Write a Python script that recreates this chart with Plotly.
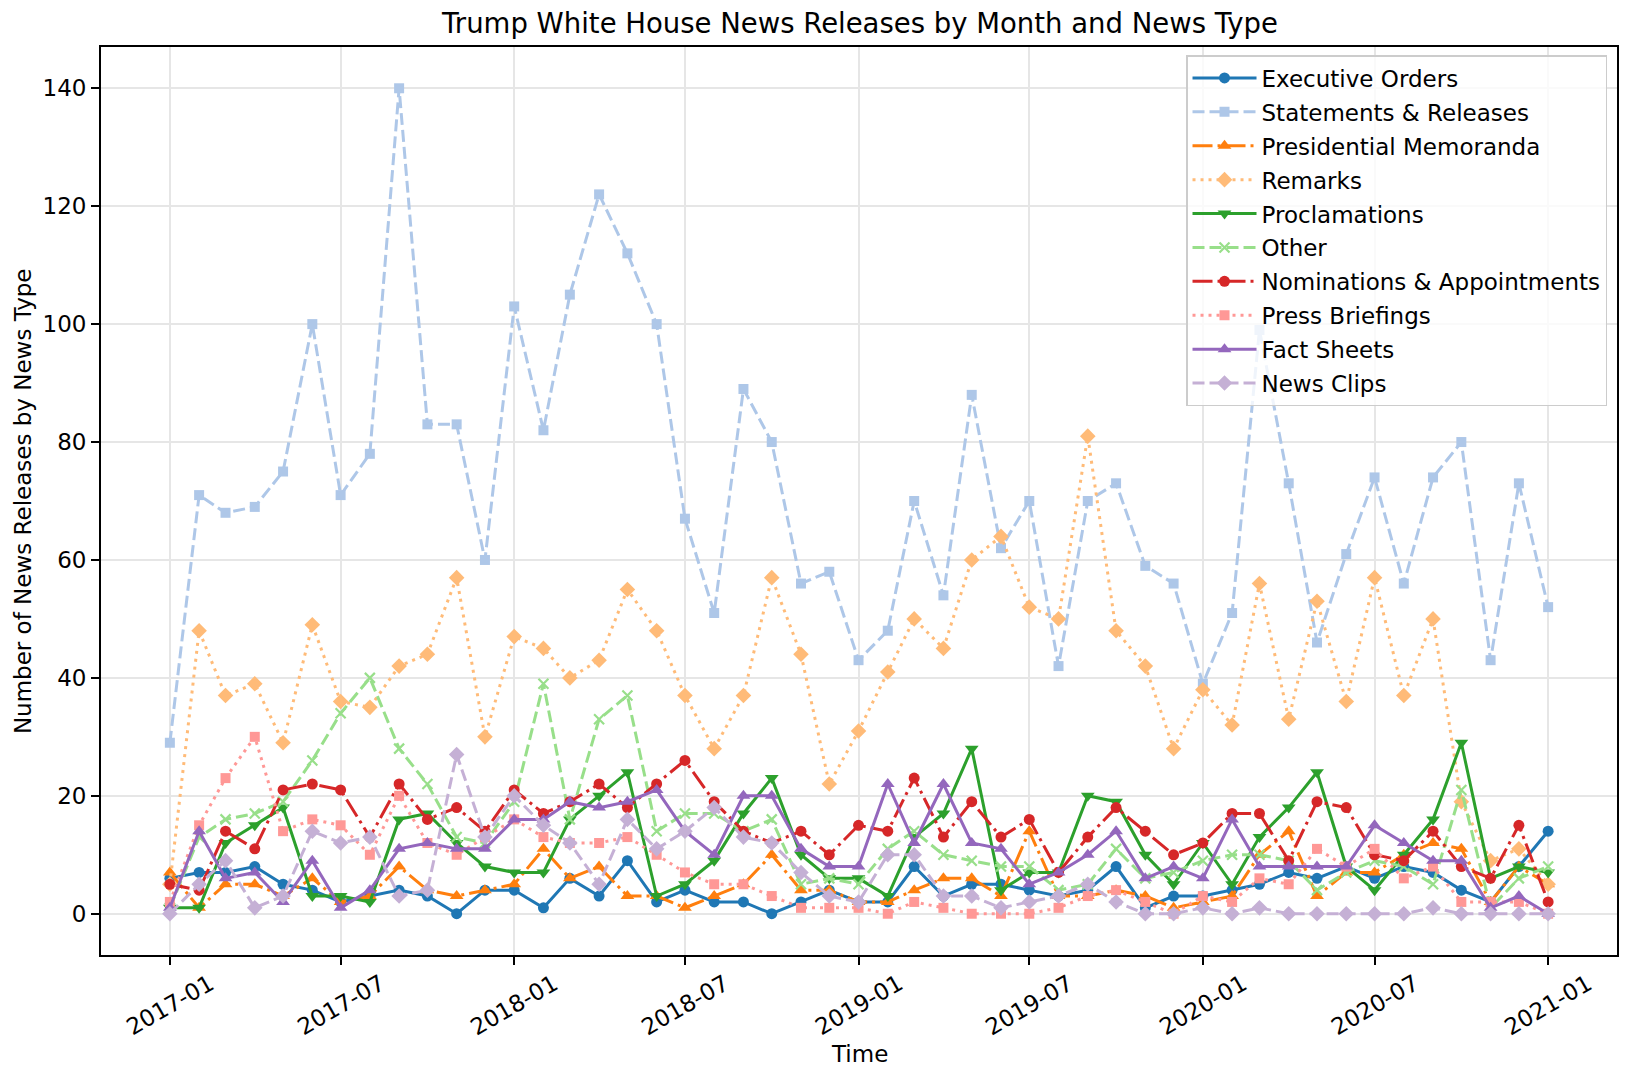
import pandas as pd
import plotly.graph_objects as go

months = pd.date_range("2017-01-01", "2021-01-01", freq="MS")

executive_orders = [6, 7, 7, 8, 5, 4, 2, 3, 4, 3, 0, 4,
                    4, 1, 6, 3, 9, 2, 4, 2, 2, 0, 2, 4,
                    2, 2, 8, 3, 5, 5, 4, 3, 4, 8, 1, 3,
                    3, 4, 5, 7, 6, 8, 6, 8, 7, 4, 2, 8,
                    14]
statements_releases = [29, 71, 68, 69, 75, 100, 71, 78, 140, 83, 83, 60,
                       103, 82, 105, 122, 112, 100, 67, 51, 89, 80, 56, 58,
                       43, 48, 70, 54, 88, 62, 70, 42, 70, 73, 59, 56,
                       39, 51, 99, 73, 46, 61, 74, 56, 74, 80, 43, 73,
                       52]
presidential_memoranda = [7, 1, 5, 5, 3, 6, 2, 3, 8, 4, 3, 4,
                          5, 11, 6, 8, 3, 3, 1, 3, 5, 10, 4, 4,
                          2, 2, 4, 6, 6, 3, 14, 3, 3, 4, 3, 1,
                          2, 3, 10, 14, 3, 7, 7, 10, 12, 11, 2, 8,
                          5]
remarks = [5, 48, 37, 39, 29, 49, 36, 35, 42, 44, 57, 30,
           47, 45, 40, 43, 55, 48, 37, 28, 37, 57, 44, 22,
           31, 41, 50, 45, 60, 64, 52, 50, 81, 48, 42, 28,
           38, 32, 56, 33, 53, 36, 57, 37, 50, 19, 9, 11,
           5]
proclamations = [1, 1, 12, 15, 18, 3, 3, 2, 16, 17, 12, 8,
                 7, 7, 16, 20, 24, 3, 5, 9, 17, 23, 10, 6,
                 6, 3, 13, 17, 28, 4, 7, 7, 20, 19, 10, 5,
                 12, 5, 13, 18, 24, 8, 4, 10, 16, 29, 6, 8,
                 7]
other = [1, 13, 16, 17, 19, 26, 34, 40, 28, 22, 13, 12,
         19, 39, 16, 33, 37, 14, 17, 17, 14, 16, 5, 6,
         5, 11, 14, 10, 9, 8, 8, 4, 5, 11, 6, 7,
         9, 10, 10, 9, 4, 7, 9, 8, 5, 21, 1, 6,
         8]
nominations = [5, 4, 14, 11, 21, 22, 21, 13, 22, 16, 18, 14,
               21, 17, 19, 22, 18, 22, 26, 19, 14, 12, 14, 10,
               15, 14, 23, 13, 19, 13, 16, 7, 13, 18, 14, 10,
               12, 17, 17, 9, 19, 18, 10, 9, 14, 8, 6, 15,
               2]
press_briefings = [2, 15, 23, 30, 14, 16, 15, 10, 20, 12, 10, 13,
                   16, 13, 12, 12, 13, 10, 7, 5, 5, 3, 1, 1,
                   1, 0, 2, 1, 0, 0, 0, 1, 3, 4, 2, 0,
                   3, 2, 6, 5, 11, 8, 11, 6, 8, 2, 2, 2,
                   0]
fact_sheets = [1, 14, 6, 7, 2, 9, 1, 4, 11, 12, 11, 11,
               16, 16, 19, 18, 19, 21, 14, 10, 20, 20, 11, 8,
               8, 22, 12, 22, 12, 11, 5, 7, 10, 14, 6, 8,
               6, 16, 8, 8, 8, 8, 15, 12, 9, 9, 1, 3,
               0]
news_clips = [0, 5, 9, 1, 3, 14, 12, 13, 3, 4, 27, 13,
              20, 15, 12, 5, 16, 11, 14, 18, 13, 12, 7, 3,
              2, 10, 10, 3, 3, 1, 2, 3, 5, 2, 0, 0,
              1, 0, 1, 0, 0, 0, 0, 0, 1, 0, 0, 0,
              0]

tick_dates = pd.date_range("2017-01-01", "2021-01-01", freq="6MS")
tick_labels = [d.strftime("%Y-%m") for d in tick_dates]

DASH = "12px,5px"
DOT = "3px,5px"
DASHDOT = "20px,5px,3px,5px"

series = [
    ("Executive Orders", executive_orders, "#1f77b4", "solid", "circle", 11),
    ("Statements & Releases", statements_releases, "#aec7e8", DASH, "square", 10),
    ("Presidential Memoranda", presidential_memoranda, "#ff7f0e", DASHDOT, "triangle-up", 12),
    ("Remarks", remarks, "#ffbb78", DOT, "diamond", 12),
    ("Proclamations", proclamations, "#2ca02c", "solid", "triangle-down", 12),
    ("Other", other, "#98df8a", DASH, "x-thin", 10),
    ("Nominations & Appointments", nominations, "#d62728", DASHDOT, "circle", 11),
    ("Press Briefings", press_briefings, "#ff9896", DOT, "square", 10),
    ("Fact Sheets", fact_sheets, "#9467bd", "solid", "triangle-up", 12),
    ("News Clips", news_clips, "#c5b0d5", DASH, "diamond", 12),
]

fig = go.Figure()
for i, (name, vals, color, dash, sym, size) in enumerate(series):
    marker = dict(symbol=sym, size=size, color=color)
    if sym == "x-thin":
        marker["line"] = dict(color=color, width=2.2)
    else:
        marker["line"] = dict(width=0)
    fig.add_trace(go.Scatter(
        x=months, y=vals, name=name, mode="lines+markers",
        line=dict(color=color, width=3, dash=dash),
        marker=marker, legendgroup=f"g{i}",
    ))

FONT = "DejaVu Sans"
# page body adds an 8px offset; figure sized so the plot box lands on the reference
W, H = 1617, 1064
L, R, T, B = 93, 6, 39, 117
pw = W - L - R
ph = H - T - B
bottom = H - B

annotations = []
for d, lab in zip(tick_dates, tick_labels):
    annotations.append(dict(
        x=d, xref="x", y=-(997 - bottom) / ph, yref="paper",
        text=lab, showarrow=False, textangle=-30,
        xanchor="center", yanchor="middle",
        font=dict(family=FONT, size=23, color="black"),
    ))
annotations.append(dict(
    x=0.5, xref="paper", y=-(1046 - bottom) / ph, yref="paper",
    text="Time", showarrow=False, xanchor="center", yanchor="middle",
    font=dict(family=FONT, size=23, color="black"),
))
annotations.append(dict(
    x=-(L - 15) / pw, xref="paper", y=0.5, yref="paper",
    text="Number of News Releases by News Type", showarrow=False,
    textangle=-90, xanchor="center", yanchor="middle",
    font=dict(family=FONT, size=23, color="black"),
))

fig.update_layout(
    width=W, height=H,
    margin=dict(l=L, r=R, t=T, b=B),
    paper_bgcolor="white", plot_bgcolor="white",
    font=dict(family=FONT, size=23, color="black"),
    title=dict(text="Trump White House News Releases by Month and News Type",
               x=(L + pw / 2) / W, xanchor="center",
               y=1 - 15 / H, yanchor="middle", yref="container",
               font=dict(family=FONT, size=27.5, color="black")),
    showlegend=True,
    legend=dict(x=(1601 - L) / pw, xanchor="right",
                y=(bottom - 47) / ph, yanchor="top",
                bgcolor="rgba(255,255,255,0.8)", bordercolor="#cccccc",
                borderwidth=1.5, font=dict(family=FONT, size=23, color="black"),
                tracegroupgap=1, itemwidth=64),
    annotations=annotations,
)
fig.update_xaxes(
    type="date", range=["2016-10-20", "2021-03-15"],
    tickvals=tick_dates, showticklabels=False,
    ticks="outside", ticklen=8, tickwidth=1.8, tickcolor="black",
    showgrid=True, gridcolor="#e6e6e6", gridwidth=1.6,
    showline=True, linecolor="black", linewidth=1.8, mirror=True,
    zeroline=False,
)
fig.update_yaxes(
    range=[-7, 147], tickvals=[0, 20, 40, 60, 80, 100, 120, 140],
    ticks="outside", ticklen=8, tickwidth=1.8, tickcolor="black",
    tickfont=dict(family=FONT, size=23, color="black"),
    showgrid=True, gridcolor="#e6e6e6", gridwidth=1.6,
    showline=True, linecolor="black", linewidth=1.8, mirror=True,
    zeroline=False,
)

fig.write_html("out.html")
